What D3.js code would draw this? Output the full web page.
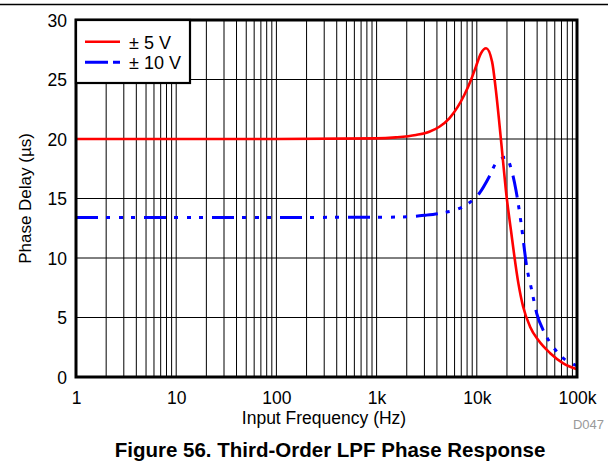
<!DOCTYPE html>
<html>
<head>
<meta charset="utf-8">
<script src="https://cdn.jsdelivr.net/npm/d3@7"></script>
<style>
  html, body { margin: 0; padding: 0; background: #fff; }
  svg { display: block; font-family: "Liberation Sans", Arial, sans-serif; }
</style>
</head>
<body>
<svg id="chart" width="608" height="476"></svg>
<script>
// Phase delay (µs) versus input frequency (Hz) for the two supply options
const freq5V  = [1, 100, 1000, 1560, 2470, 3360, 4230, 5320, 6450, 7500, 8750, 9800, 11000, 12400, 14200, 15500, 16800, 18100, 19500, 21900, 26000, 29000, 34000, 41000, 54000, 73000, 100000];
const delay5V = [20.0, 20.0, 20.05, 20.14, 20.34, 20.61, 21.03, 21.74, 22.7, 23.7, 24.96, 26.08, 27.2, 27.62, 26.5, 24.1, 21.3, 18.5, 15.7, 12.35, 7.87, 5.9, 4.23, 3.1, 2.0, 1.15, 0.65];

const freq10V  = [1, 1000, 2100, 3100, 4600, 6100, 8100, 10600, 13300, 15500, 19500, 22200, 24600, 27700, 31500, 35300, 39600, 45900, 56000, 70000, 100000];
const delay10V = [13.4, 13.42, 13.47, 13.6, 13.8, 14.03, 14.54, 15.44, 16.83, 17.96, 18.46, 17.4, 15.7, 12.9, 9.27, 7.31, 5.35, 3.95, 2.69, 1.71, 0.95];

const seriesNames = ["\u00B1 5 V", "\u00B1 10 V"];
const xTickValues = [1, 10, 100, 1000, 10000, 100000];
const xTickLabels = ["1", "10", "100", "1k", "10k", "100k"];
const yTickValues = [0, 5, 10, 15, 20, 25, 30];

const svg = d3.select("#chart");
const plotL = 76, plotR = 577, plotT = 20, plotB = 377;

const x = d3.scaleLog().domain([1, 100000]).range([plotL, plotR]);
const y = d3.scaleLinear().domain([0, 30]).range([plotB, plotT]);

// rule across the top of the page
svg.append("line")
  .attr("x1", 0).attr("x2", 608).attr("y1", 4.5).attr("y2", 4.5)
  .attr("stroke", "#000").attr("stroke-width", 1.3);

// grid: every 1..9 multiple of each decade, and every 5 µs
const minorX = [];
for (let d = 1; d < 100000; d *= 10) for (let m = 1; m <= 9; m++) minorX.push(d * m);
minorX.push(100000);

const grid = svg.append("g");
grid.selectAll("line.vx").data(minorX).join("line")
  .attr("x1", d => x(d)).attr("x2", d => x(d))
  .attr("y1", plotT).attr("y2", plotB)
  .attr("stroke", "#000").attr("stroke-width", 1);
grid.selectAll("line.hy").data(yTickValues).join("line")
  .attr("x1", plotL).attr("x2", plotR)
  .attr("y1", d => y(d)).attr("y2", d => y(d))
  .attr("stroke", "#000").attr("stroke-width", 1);

// axes (labels only; the frame is drawn separately)
const xAxis = d3.axisBottom(x).tickValues(xTickValues)
  .tickFormat((d, i) => xTickLabels[i]).tickSize(0).tickPadding(0);
const gx = svg.append("g").attr("transform", `translate(0,${plotB})`).call(xAxis);
gx.select(".domain").remove();
gx.selectAll("text").attr("font-size", 17.5).attr("fill", "#000")
  .attr("dy", null).attr("y", 27);

const yAxis = d3.axisLeft(y).tickValues(yTickValues).tickSize(0).tickPadding(0);
const gy = svg.append("g").attr("transform", `translate(${plotL},0)`).call(yAxis);
gy.select(".domain").remove();
gy.selectAll("text").attr("font-size", 17.5).attr("fill", "#000")
  .attr("x", -9).attr("dy", "0.36em");

// curves
const line5 = d3.line().x((d, i) => x(freq5V[i])).y(d => y(d)).curve(d3.curveMonotoneX);
const line10 = d3.line().x((d, i) => x(freq10V[i])).y(d => y(d)).curve(d3.curveMonotoneX);

svg.append("path").datum(delay10V)
  .attr("d", line10).attr("fill", "none")
  .attr("stroke", "#0000ff").attr("stroke-width", 3)
  .attr("stroke-dasharray", "22,8,4,9,4,8,4,9");

svg.append("path").datum(delay5V)
  .attr("d", line5).attr("fill", "none")
  .attr("stroke", "#ff0000").attr("stroke-width", 2.6);

// plot frame
svg.append("rect")
  .attr("x", plotL).attr("y", plotT)
  .attr("width", plotR - plotL).attr("height", plotB - plotT)
  .attr("fill", "none").attr("stroke", "#000").attr("stroke-width", 3);

// legend
const lg = svg.append("g");
lg.append("rect").attr("x", 76).attr("y", 20).attr("width", 114).attr("height", 63)
  .attr("fill", "#fff").attr("stroke", "#000").attr("stroke-width", 2.2);
lg.append("line").attr("x1", 85).attr("x2", 120).attr("y1", 41.7).attr("y2", 41.7)
  .attr("stroke", "#ff0000").attr("stroke-width", 2.6);
lg.append("line").attr("x1", 85).attr("x2", 120).attr("y1", 62.3).attr("y2", 62.3)
  .attr("stroke", "#0000ff").attr("stroke-width", 3)
  .attr("stroke-dasharray", "23,5,7,50");
lg.selectAll("text").data(seriesNames).join("text")
  .attr("x", 129).attr("y", (d, i) => 48.5 + i * 20.5)
  .attr("font-size", 18).attr("fill", "#000").text(d => d);

// axis titles
svg.append("text").attr("x", 324).attr("y", 424)
  .attr("text-anchor", "middle").attr("font-size", 17.5).attr("fill", "#000")
  .text("Input Frequency (Hz)");
svg.append("text").attr("transform", `translate(31,${(plotT + plotB) / 2}) rotate(-90)`)
  .attr("text-anchor", "middle").attr("font-size", 17).attr("fill", "#000")
  .text("Phase Delay (\u00B5s)");

svg.append("text").attr("x", 604).attr("y", 429)
  .attr("text-anchor", "end").attr("font-size", 13).attr("fill", "#999")
  .text("D047");

svg.append("text").attr("x", 330).attr("y", 457)
  .attr("text-anchor", "middle").attr("font-size", 20.5).attr("font-weight", "bold")
  .attr("fill", "#000")
  .text("Figure 56. Third-Order LPF Phase Response");
</script>
</body>
</html>
